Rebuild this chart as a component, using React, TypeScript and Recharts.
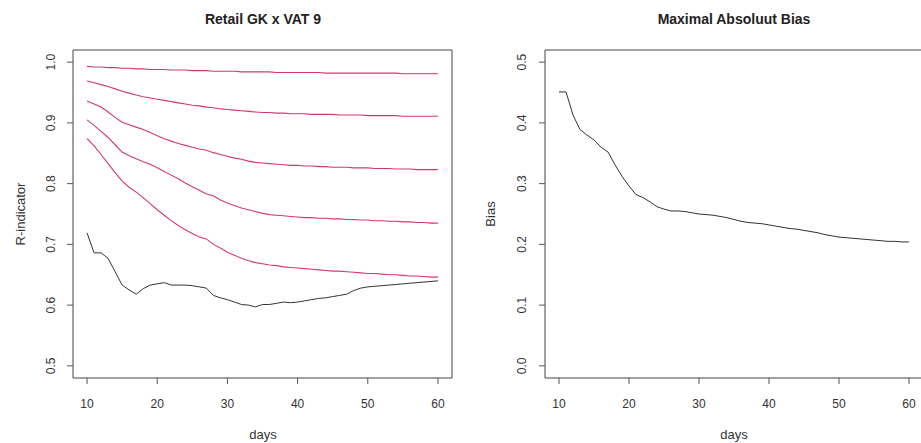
import { LineChart, Line, XAxis, YAxis, ReferenceArea } from 'recharts';

const FONT = '"Liberation Sans", Arial, Helvetica, sans-serif';
const RED = '#d6386c';
const INK = '#333333';

// days 10..60
const days = [
  10, 11, 12, 13, 14, 15, 16, 17, 18, 19, 20, 21, 22, 23, 24, 25, 26, 27, 28, 29, 30,
  31, 32, 33, 34, 35, 36, 37, 38, 39, 40, 41, 42, 43, 44, 45, 46, 47, 48, 49, 50,
  51, 52, 53, 54, 55, 56, 57, 58, 59, 60,
];

// R-indicator bands (red), top to bottom
const band1 = [
  0.993, 0.992, 0.992, 0.991, 0.991, 0.99, 0.99, 0.989, 0.989, 0.988, 0.988, 0.988, 0.987, 0.987, 0.987, 0.986, 0.986, 0.986, 0.985, 0.985, 0.985,
  0.985, 0.984, 0.984, 0.984, 0.984, 0.984, 0.983, 0.983, 0.983, 0.983, 0.983, 0.983, 0.983, 0.982, 0.982, 0.982, 0.982, 0.982, 0.982, 0.982,
  0.982, 0.982, 0.982, 0.982, 0.981, 0.981, 0.981, 0.981, 0.981, 0.981,
];
const band2 = [
  0.969, 0.966, 0.963, 0.96, 0.956, 0.952, 0.949, 0.946, 0.943, 0.941, 0.939, 0.937, 0.935, 0.933, 0.931, 0.929, 0.928, 0.926, 0.925, 0.923, 0.922,
  0.921, 0.92, 0.919, 0.918, 0.917, 0.917, 0.916, 0.916, 0.915, 0.915, 0.915, 0.914, 0.914, 0.914, 0.914, 0.913, 0.913, 0.913, 0.913, 0.912,
  0.912, 0.912, 0.912, 0.912, 0.911, 0.911, 0.911, 0.911, 0.911, 0.911,
];
const band3 = [
  0.936, 0.931, 0.926, 0.918, 0.909, 0.901, 0.897, 0.893, 0.889, 0.884, 0.879, 0.874, 0.87, 0.866, 0.863, 0.86, 0.857, 0.855, 0.851, 0.848, 0.845,
  0.842, 0.84, 0.837, 0.835, 0.834, 0.833, 0.832, 0.831, 0.83, 0.83, 0.829, 0.829, 0.828, 0.828, 0.827, 0.827, 0.827, 0.826, 0.826, 0.826,
  0.825, 0.825, 0.825, 0.824, 0.824, 0.824, 0.823, 0.823, 0.823, 0.823,
];
const band4 = [
  0.905, 0.896, 0.886, 0.876, 0.864, 0.852, 0.846, 0.841, 0.836, 0.832, 0.826, 0.82, 0.814, 0.808, 0.801, 0.795, 0.789, 0.783, 0.78, 0.773, 0.768,
  0.764, 0.76, 0.757, 0.754, 0.751, 0.749, 0.748, 0.747, 0.746, 0.745, 0.744, 0.744, 0.743, 0.743, 0.742, 0.742, 0.741, 0.741, 0.74, 0.74,
  0.739, 0.739, 0.738, 0.738, 0.737, 0.737, 0.736, 0.736, 0.735, 0.735,
];
const band5 = [
  0.874, 0.862, 0.848, 0.833, 0.818, 0.804, 0.794, 0.786, 0.777, 0.767, 0.757, 0.748, 0.739, 0.731, 0.724, 0.718, 0.712, 0.709, 0.7, 0.694, 0.687,
  0.682, 0.677, 0.673, 0.67, 0.668, 0.666, 0.665, 0.663, 0.662, 0.661, 0.66, 0.659, 0.658, 0.657, 0.656, 0.656, 0.655, 0.654, 0.653, 0.652,
  0.652, 0.651, 0.65, 0.65, 0.649, 0.648, 0.648, 0.647, 0.646, 0.646,
];
// observed R-indicator (black)
const rIndicator = [
  0.719, 0.686, 0.686, 0.677, 0.655, 0.633, 0.625, 0.618, 0.627, 0.633, 0.635, 0.637, 0.633, 0.633, 0.633, 0.632, 0.63, 0.628, 0.616, 0.612, 0.609,
  0.605, 0.601, 0.6, 0.597, 0.601, 0.601, 0.603, 0.605, 0.604, 0.605, 0.607, 0.609, 0.611, 0.612, 0.614, 0.616, 0.618, 0.624, 0.628, 0.63,
  0.631, 0.632, 0.633, 0.634, 0.635, 0.636, 0.637, 0.638, 0.639, 0.64,
];
// maximal absolute bias
const maxBias = [
  0.451, 0.451, 0.413, 0.389, 0.38, 0.372, 0.36, 0.352, 0.331, 0.312, 0.296, 0.282, 0.277, 0.27, 0.262, 0.258, 0.255, 0.255, 0.254, 0.252, 0.25,
  0.249, 0.248, 0.246, 0.244, 0.241, 0.238, 0.236, 0.235, 0.234, 0.232, 0.23, 0.228, 0.226, 0.225, 0.223, 0.221, 0.219, 0.216, 0.214, 0.212,
  0.211, 0.21, 0.209, 0.208, 0.207, 0.206, 0.205, 0.205, 0.204, 0.204,
];

const dayTicks = [10, 20, 30, 40, 50, 60];
const rTicks = [0.5, 0.6, 0.7, 0.8, 0.9, 1.0];
const biasTicks = [0, 0.1, 0.2, 0.3, 0.4, 0.5];

const rows = days.map((day, i) => ({
  day,
  b1: band1[i],
  b2: band2[i],
  b3: band3[i],
  b4: band4[i],
  b5: band5[i],
  r: rIndicator[i],
  bias: maxBias[i],
}));

const bands = ['b1', 'b2', 'b3', 'b4', 'b5'];

function RotatedTick(props: any) {
  const { x, y, payload } = props;
  return (
    <text
      x={x}
      y={y}
      transform={`rotate(-90, ${x}, ${y})`}
      textAnchor="middle"
      fontSize={12}
      fontFamily={FONT}
      fill={INK}
    >
      {Number(payload.value).toFixed(1)}
    </text>
  );
}

const xTick = { fontSize: 12, fontFamily: FONT, fill: INK };

export default function App() {
  return (
    <div
      style={{
        position: 'absolute',
        left: 0,
        top: 0,
        width: 921,
        height: 443,
        overflow: 'hidden',
        background: '#fff',
      }}
    >
      <div style={{ position: 'absolute', left: 0, top: 0 }}>
        <LineChart width={460} height={443} data={rows} margin={{ top: 50, right: 8, bottom: 35, left: 23 }}>
          <XAxis
            dataKey="day"
            type="number"
            domain={[8, 62]}
            ticks={dayTicks}
            allowDataOverflow
            axisLine={false}
            tickSize={6}
            tickMargin={15}
            height={30}
            tick={xTick}
            stroke="#555"
          />
          <YAxis
            type="number"
            domain={[0.48, 1.02]}
            ticks={rTicks}
            allowDataOverflow
            axisLine={false}
            tickSize={6}
            tickMargin={12}
            width={50}
            tick={<RotatedTick />}
            stroke="#555"
          />
          <ReferenceArea x1={8} x2={62} y1={0.48} y2={1.02} fill="none" stroke="#444" strokeWidth={1} />
          {bands.map((k) => (
            <Line key={k} dataKey={k} type="linear" stroke={RED} strokeWidth={1.1} dot={false} isAnimationActive={false} />
          ))}
          <Line dataKey="r" type="linear" stroke={INK} strokeWidth={1} dot={false} isAnimationActive={false} />
        </LineChart>
      </div>
      <div style={{ position: 'absolute', left: 460, top: 0 }}>
        <LineChart width={470} height={443} data={rows} margin={{ top: 50, right: 7, bottom: 35, left: 35 }}>
          <XAxis
            dataKey="day"
            type="number"
            domain={[8, 62]}
            ticks={dayTicks}
            allowDataOverflow
            axisLine={false}
            tickSize={6}
            tickMargin={15}
            height={30}
            tick={xTick}
            stroke="#555"
          />
          <YAxis
            type="number"
            domain={[-0.02, 0.52]}
            ticks={biasTicks}
            allowDataOverflow
            axisLine={false}
            tickSize={6}
            tickMargin={13}
            width={50}
            tick={<RotatedTick />}
            stroke="#555"
          />
          <ReferenceArea x1={8} x2={62} y1={-0.02} y2={0.52} fill="none" stroke="#444" strokeWidth={1} />
          <Line dataKey="bias" type="linear" stroke={INK} strokeWidth={1} dot={false} isAnimationActive={false} />
        </LineChart>
      </div>
      <svg
        width={921}
        height={443}
        style={{ position: 'absolute', left: 0, top: 0, pointerEvents: 'none' }}
        fontFamily={FONT}
        fill={INK}
      >
        <text x={263} y={24} textAnchor="middle" fontSize={14} fontWeight="bold" fill="#222">
          Retail GK x VAT 9
        </text>
        <text x={734} y={24} textAnchor="middle" fontSize={14} fontWeight="bold" fill="#222">
          Maximal Absoluut Bias
        </text>
        <text x={263} y={439} textAnchor="middle" fontSize={13}>
          days
        </text>
        <text x={734} y={439} textAnchor="middle" fontSize={13}>
          days
        </text>
        <text x={25} y={214} textAnchor="middle" fontSize={13} transform="rotate(-90, 25, 214)">
          R-indicator
        </text>
        <text x={495} y={214} textAnchor="middle" fontSize={13} transform="rotate(-90, 495, 214)">
          Bias
        </text>
      </svg>
    </div>
  );
}
